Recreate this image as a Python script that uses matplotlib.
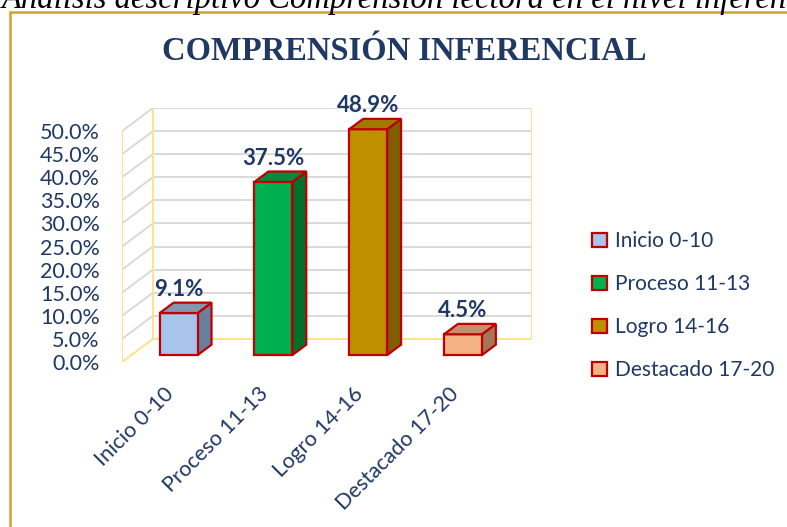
import numpy as np
import matplotlib.pyplot as plt
from matplotlib.patches import Polygon, Patch, Rectangle

categorias = ['Inicio 0-10', 'Proceso 11-13', 'Logro 14-16', 'Destacado 17-20']
porcentajes = [9.1, 37.5, 48.9, 4.5]
etiquetas_y = ['0.0%', '5.0%', '10.0%', '15.0%', '20.0%', '25.0%',
               '30.0%', '35.0%', '40.0%', '45.0%', '50.0%']
valores_y = [0, 5, 10, 15, 20, 25, 30, 35, 40, 45, 50]

col_frente = ['#A9C4EB', '#00B050', '#BF8F00', '#F4B183']
col_lado = ['#6A7F9E', '#00702F', '#7F5F00', '#A37858']
col_tope = ['#8497B0', '#008A3C', '#A07A00', '#C48D6C']
borde = '#C00000'
azul = '#1F3864'

plt.rcParams['font.family'] = ['Lato', 'DejaVu Sans']

fig = plt.figure(figsize=(7.87, 5.27), dpi=100)
fig.patch.set_facecolor('white')

# encabezado recortado arriba
fig.text(0.002, 1 - 8 / 527, 'Análisis descriptivo Comprensión lectora en el nivel inferencial',
         family='Liberation Serif', style='italic', fontsize=23.5, va='baseline', ha='left', color='black')
# marco dorado
fig.patches.append(Rectangle((10 / 787, -0.1), 1.2, 1 - 12 / 527 + 0.1, transform=fig.transFigure,
                             fill=False, edgecolor='#CFA22E', linewidth=1.8))

fig.text(404 / 787, 1 - 52 / 527, 'COMPRENSIÓN INFERENCIAL', family='Liberation Serif',
         fontweight='bold', fontsize=23.5, color=azul, ha='center', va='center')

ax = fig.add_axes([122 / 787, (527 - 362) / 527, 410 / 787, 254 / 527])
DX, DY = 0.326, 5.0   # profundidad completa
f0, f1 = 0.3, 0.75    # profundidad de las barras
ancho = 0.4
x = np.arange(len(categorias))
ax.set_xlim(-0.5, 3.5 + DX)
ax.set_ylim(0, 50 + DY)

# paredes y rejilla
gris = '#D9D9D9'
amarillo = '#FFE28A'
for v in valores_y:
    c = amarillo if v == 0 else gris
    ax.plot([-0.5, -0.5 + DX], [v, v + DY], color=c, lw=1.4, zorder=1)
    ax.plot([-0.5 + DX, 3.5 + DX], [v + DY, v + DY], color=c, lw=1.4, zorder=1)
ax.plot([-0.5, -0.5], [0, 50], color=amarillo, lw=1.4, zorder=2)
ax.plot([-0.5 + DX, -0.5 + DX], [DY, 50 + DY], color=amarillo, lw=1.4, zorder=2)
ax.plot([3.5 + DX, 3.5 + DX], [DY, 50 + DY], color=amarillo, lw=1.4, zorder=2)

# barras
xc = x + f0 * DX
ax.bar(xc, porcentajes, ancho, bottom=f0 * DY, color=col_frente, edgecolor=borde, linewidth=1.6, zorder=4)
d = (f1 - f0)
for i, v in enumerate(porcentajes):
    xl, xr = xc[i] - ancho / 2, xc[i] + ancho / 2
    y0, y1 = f0 * DY, f0 * DY + v
    lado = Polygon([(xr, y0), (xr + d * DX, y0 + d * DY), (xr + d * DX, y1 + d * DY), (xr, y1)],
                   closed=True, facecolor=col_lado[i], edgecolor=borde, linewidth=1.6, zorder=3)
    tope = Polygon([(xl, y1), (xr, y1), (xr + d * DX, y1 + d * DY), (xl + d * DX, y1 + d * DY)],
                   closed=True, facecolor=col_tope[i], edgecolor=borde, linewidth=1.6, zorder=5)
    ax.add_patch(lado)
    ax.add_patch(tope)
    ax.annotate(f'{v}%', (xc[i], y1 + d * DY), xytext=(0, 2), textcoords='offset points',
                ha='center', va='bottom', fontsize=16, fontweight='bold', color=azul)

ax.set_yticks(valores_y)
ax.set_yticklabels(etiquetas_y, fontsize=15.5, color=azul)
ax.tick_params(axis='y', length=0, pad=16)
ax.set_xticks([])
for s in ax.spines.values():
    s.set_visible(False)

for i, nombre in enumerate(categorias):
    ax.text(i + 0.09, -0.085, nombre, transform=ax.get_xaxis_transform(), rotation=45,
            ha='right', va='top', fontsize=15.5, color=azul)

handles = [Patch(facecolor=col_frente[i], edgecolor=borde, linewidth=1.6, label=categorias[i])
           for i in range(4)]
leg = fig.legend(handles=handles, loc='upper left', bbox_to_anchor=(584 / 787, 1 - 223 / 527),
                 frameon=False, fontsize=15, labelcolor=azul, handlelength=0.7, handleheight=0.7,
                 handletextpad=0.4, labelspacing=1.1, borderaxespad=0)

fig.savefig('out.png', dpi=100)
